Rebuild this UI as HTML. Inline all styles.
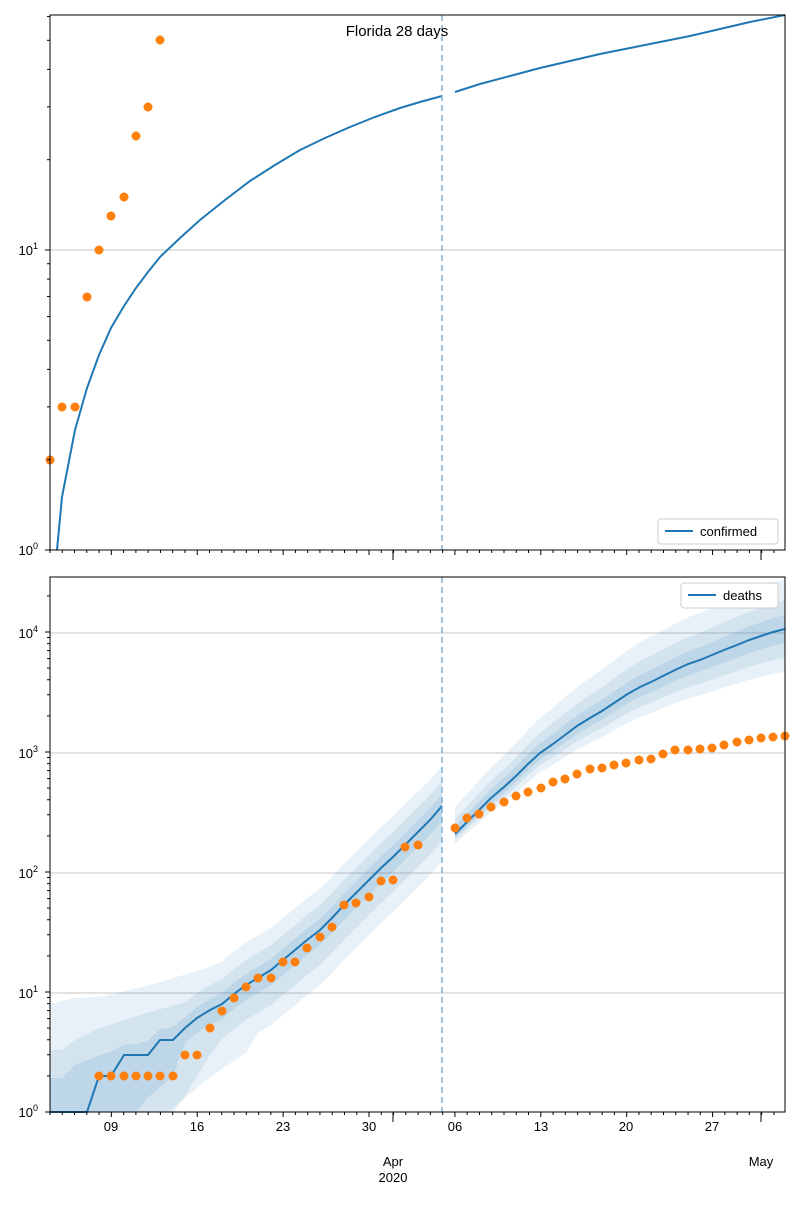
<!DOCTYPE html>
<html><head><meta charset="utf-8"><style>
body{margin:0;background:#fff}
svg{font-family:"Liberation Sans","DejaVu Sans",sans-serif}
</style></head><body>
<svg id="s" width="800" height="1200" xmlns="http://www.w3.org/2000/svg">
<rect width="800" height="1200" fill="#fff"/>
<defs>
<clipPath id="c1"><rect x="50" y="15" width="735" height="535"/></clipPath>
<clipPath id="c2"><rect x="50" y="577" width="735" height="535"/></clipPath>
</defs>
<g id="grid"></g>
<g id="bands" clip-path="url(#c2)"></g>
<g id="lines"></g>
<g id="dots"></g>
<line x1="442" y1="15" x2="442" y2="550" stroke="#7fb1d9" stroke-width="1.5" stroke-dasharray="6,4"/>
<line x1="442" y1="577" x2="442" y2="1112" stroke="#7fb1d9" stroke-width="1.5" stroke-dasharray="6,4"/>
<rect x="50" y="15" width="735" height="535" fill="none" stroke="#000"/>
<rect x="50" y="577" width="735" height="535" fill="none" stroke="#000"/>
<g id="ticks" stroke="#000"></g>
<text x="397" y="36" font-size="15" text-anchor="middle">Florida 28 days</text>
<g font-size="13" text-anchor="end">
<text x="38" y="255">10<tspan font-size="9" dy="-6">1</tspan></text>
<text x="38" y="555">10<tspan font-size="9" dy="-6">0</tspan></text>
<text x="38" y="638">10<tspan font-size="9" dy="-6">4</tspan></text>
<text x="38" y="758">10<tspan font-size="9" dy="-6">3</tspan></text>
<text x="38" y="878">10<tspan font-size="9" dy="-6">2</tspan></text>
<text x="38" y="998">10<tspan font-size="9" dy="-6">1</tspan></text>
<text x="38" y="1117">10<tspan font-size="9" dy="-6">0</tspan></text>
</g>
<g font-size="13" text-anchor="middle">
<text x="111" y="1131">09</text><text x="197" y="1131">16</text><text x="283" y="1131">23</text>
<text x="369" y="1131">30</text><text x="455" y="1131">06</text><text x="541" y="1131">13</text>
<text x="626" y="1131">20</text><text x="712" y="1131">27</text>
<text x="393" y="1166">Apr</text><text x="393" y="1182">2020</text><text x="761" y="1166">May</text>
</g>
<rect x="658" y="519" width="120" height="25" fill="#fff" stroke="#ccc" rx="3"/>
<line x1="665" y1="531" x2="693" y2="531" stroke="#1f77b4" stroke-width="2"/>
<text x="700" y="536" font-size="13">confirmed</text>
<rect x="681" y="583" width="97" height="25" fill="#fff" stroke="#ccc" rx="3"/>
<line x1="688" y1="595" x2="716" y2="595" stroke="#1f77b4" stroke-width="2"/>
<text x="723" y="600" font-size="13">deaths</text>
</svg>
<script>
var NS="http://www.w3.org/2000/svg";
function el(p,t,a){var e=document.createElementNS(NS,t);for(var k in a)e.setAttribute(k,a[k]);document.getElementById(p).appendChild(e);return e;}
[250,633,753,873,993].forEach(function(y){el("grid","line",{x1:50,x2:785,y1:y,y2:y,stroke:"#b0b0b0","stroke-width":0.8});});
var d=12.27;
for(var i=0;i<=60;i++){var x=50+d*i;if(x>786)break;
 var major=[111,197,283,369,455,541,626,712].some(function(m){return Math.abs(m-x)<3;});
 var L=major?5:3;
 el("ticks","line",{x1:x,x2:x,y1:550,y2:550+L});el("ticks","line",{x1:x,x2:x,y1:1112,y2:1112+L});}
[393,761].forEach(function(x){el("ticks","line",{x1:x,x2:x,y1:550,y2:560});el("ticks","line",{x1:x,x2:x,y1:1112,y2:1122});});
function yt(base,dec,n,top){for(var k=0;k<n;k++)for(var m=1;m<10;m++){var y=base-dec*(k+Math.log10(m));if(y<top)continue;
 el("ticks","line",{x1:50-(m==1?5:3),x2:50,y1:y,y2:y});}}
yt(550,300,2,15);yt(1112,120,5,577);
el("lines","polyline",{points:"57,550 62,497 75,430 87,388 99,355 111,328 124,306 136,288 148,272 160,257 180,238 200,220 225,200 250,181 275,165 300,150 325,138 350,127 375,117 400,108 420,102 442,96",fill:"none",stroke:"#1f77b4","stroke-width":2,"clip-path":"url(#c1)"});
el("lines","polyline",{points:"455,92 480,84 510,76 540,68 570,61 600,54 630,48 660,42 690,36 720,29 750,22 785,15",fill:"none",stroke:"#1f77b4","stroke-width":2});
[[50,460],[62,407],[75,407],[87,297],[99,250],[111,216],[124,197],[136,136],[148,107],[160,40]].forEach(function(p){el("dots","circle",{cx:p[0],cy:p[1],r:4.5,fill:"#ff7f0e"});});
var m1=[[50,1112],[62,1112],[75,1112],[87,1112],[99,1076],[111,1076],[124,1055],[136,1055],[148,1055],[160,1040],[173,1040],[185,1028],[197,1018],[210,1010],[222,1004],[234,994],[246,985],[258,978],[271,970],[283,960],[295,950],[307,940],[320,930],[332,918],[344,905],[356,893],[369,880],[381,868],[393,857],[405,845],[418,832],[430,820],[442,806]];
var m2=[[455,834],[467,822],[479,810],[491,798],[504,787],[516,776],[528,764],[540,753],[553,744],[565,735],[577,726],[590,718],[602,711],[614,703],[626,695],[640,687],[651,682],[663,676],[675,670],[688,664],[700,660],[712,655],[724,650],[737,645],[749,640],[761,636],[773,632],[785,629]];
function interp(tbl,x){if(x<=tbl[0][0])return tbl[0][1];for(var i=1;i<tbl.length;i++){if(x<=tbl[i][0]){var a=tbl[i-1],b=tbl[i];return a[1]+(b[1]-a[1])*(x-a[0])/(b[0]-a[0]);}}return tbl[tbl.length-1][1];}
function band(pts,up,lo,op,absT,absB){
 var a=pts.map(function(p){var y=p[1]-interp(up,p[0]);if(absT)y=Math.min(y,interp(absT,p[0]));return p[0]+","+y;});
 var b=pts.slice().reverse().map(function(p){var y=p[1]+interp(lo,p[0]);if(absB)y=Math.max(y,interp(absB,p[0]));return p[0]+","+y;});
 el("bands","polygon",{points:a.concat(b).join(" "),fill:"#1f77b4","fill-opacity":op});}
// left bands
band(m1,[[50,45],[442,40]],[[50,55],[442,55]],0.1,
 [[50,1004],[75,998],[100,997],[150,985],[200,970],[240,1200]],
 [[50,1160],[165,1115],[210,1077],[250,1050],[300,0]]);
band(m1,[[50,25],[442,25]],[[50,35],[442,35]],0.1,
 [[50,1050],[62,1050],[75,1040],[100,1028],[150,1012],[200,998],[240,1200]],
 [[50,1160],[150,1125],[175,1112],[210,1055],[250,0]]);
band(m1,[[50,10],[442,12]],[[50,15],[442,15]],0.12,
 [[50,1078],[62,1078],[75,1065],[100,1055],[150,1040],[200,1012],[230,1200]],
 [[50,1160],[130,1120],[145,1100],[180,1070],[220,0]]);
// right bands
band(m2,[[455,27],[640,45],[785,50]],[[455,10],[640,30],[785,43]],0.1);
band(m2,[[455,15],[640,26],[785,29]],[[455,6],[640,20],[785,29]],0.1);
band(m2,[[455,8],[640,12],[785,14]],[[455,4],[640,10],[785,14]],0.12);
el("lines","polyline",{points:m1.map(String).join(" "),fill:"none",stroke:"#1f77b4","stroke-width":2});
el("lines","polyline",{points:m2.map(String).join(" "),fill:"none",stroke:"#1f77b4","stroke-width":2});
[[99,1076],[111,1076],[124,1076],[136,1076],[148,1076],[160,1076],[173,1076],[185,1055],[197,1055],[210,1028],[222,1011],[234,998],[246,987],[258,978],[271,978],[283,962],[295,962],[307,948],[320,937],[332,927],[344,905],[356,903],[369,897],[381,881],[393,880],[405,847],[418,845],
[455,828],[467,818],[479,814],[491,807],[504,802],[516,796],[528,792],[541,788],[553,782],[565,779],[577,774],[590,769],[602,768],[614,765],[626,763],[639,760],[651,759],[663,754],[675,750],[688,750],[700,749],[712,748],[724,745],[737,742],[749,740],[761,738],[773,737],[785,736]].forEach(function(p){el("dots","circle",{cx:p[0],cy:p[1],r:4.5,fill:"#ff7f0e"});});
</script>
</body></html>
